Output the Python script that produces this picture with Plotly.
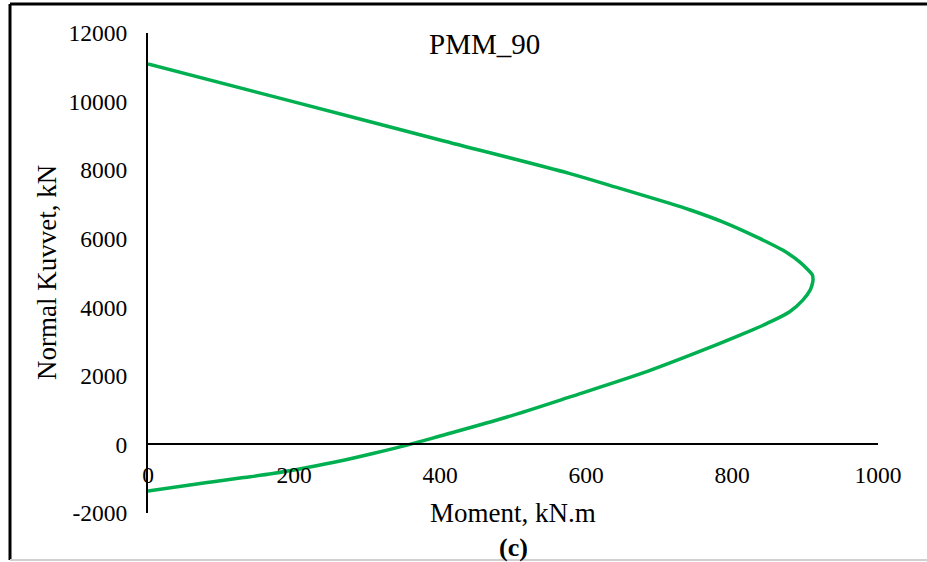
import plotly.graph_objects as go

# PMM_90 interaction curve (Moment kN.m, Normal force kN)
moment = [0, 200, 400, 578, 650, 715, 742, 788, 834, 870, 893, 905, 910, 911,
          910, 907, 897, 879, 848, 811, 747, 678, 578, 492, 400, 355, 308,
          263, 218, 171, 126, 81, 0]
axial = [11100, 9990, 8880, 7900, 7445, 7030, 6845, 6485, 6047, 5660, 5320, 5075, 4950, 4820,
         4680, 4500, 4210, 3870, 3530, 3190, 2640, 2085, 1385, 800, 245, -20, -265,
         -485, -675, -850, -980, -1110, -1360]

x_ticks = [0, 200, 400, 600, 800, 1000]
x_tick_labels = ["0", "200", "400", "600", "800", "1000"]
y_ticks = [-2000, 0, 2000, 4000, 6000, 8000, 10000, 12000]
y_tick_labels = ["-2000", "0", "2000", "4000", "6000", "8000", "10000", "12000"]
x_range = [0, 1000]
y_range = [-2000, 12000]

FONT = "Liberation Serif, Times New Roman, serif"

fig = go.Figure()
fig.add_trace(go.Scatter(x=moment, y=axial, mode="lines",
                         line=dict(color="#00B050", width=3.5, shape="spline", smoothing=0.9),
                         showlegend=False, hoverinfo="skip"))

zero_pos = (0 - y_range[0]) / (y_range[1] - y_range[0])

fig.update_layout(
    width=927, height=562,
    margin=dict(l=148, r=49, t=33, b=49),
    paper_bgcolor="white", plot_bgcolor="white",
    font=dict(family=FONT, color="black", size=23),
    xaxis=dict(range=x_range, tickvals=x_ticks, ticktext=x_tick_labels,
               showgrid=False, zeroline=False,
               showline=True, linecolor="black", linewidth=2,
               anchor="free", position=zero_pos, ticks="",
               ticklabelstandoff=9, tickfont=dict(size=23.5, family=FONT)),
    yaxis=dict(range=y_range, tickvals=y_ticks, ticktext=y_tick_labels,
               showgrid=False, zeroline=False,
               showline=True, linecolor="black", linewidth=2, ticks="",
               ticklabelstandoff=14, tickfont=dict(size=23.5, family=FONT)),
    annotations=[
        dict(text="PMM_90", x=(484 - 148) / 730, y=(513 - 44) / 480, xref="paper", yref="paper",
             showarrow=False, font=dict(size=29, family=FONT), xanchor="center", yanchor="middle"),
        dict(text="Moment, kN.m", x=0.5, y=(513 - 513) / 480, xref="paper", yref="paper",
             showarrow=False, font=dict(size=27, family=FONT), xanchor="center", yanchor="middle"),
        dict(text="<b>(c)</b>", x=0.5, y=(513 - 547) / 480, xref="paper", yref="paper",
             showarrow=False, font=dict(size=26, family=FONT), xanchor="center", yanchor="middle"),
        dict(text="Normal Kuvvet, kN", x=(47 - 148) / 730, y=0.5, xref="paper", yref="paper",
             showarrow=False, textangle=-90, font=dict(size=27, family=FONT),
             xanchor="center", yanchor="middle"),
    ],
    shapes=[
        dict(type="line", xref="paper", yref="paper", x0=(10 - 148) / 730, x1=(940 - 148) / 730,
             y0=(513 - 4) / 480, y1=(513 - 4) / 480, line=dict(color="black", width=3)),
        dict(type="line", xref="paper", yref="paper", x0=(10 - 148) / 730, x1=(10 - 148) / 730,
             y0=(513 - 4) / 480, y1=(513 - 560) / 480, line=dict(color="black", width=3)),
        dict(type="line", xref="paper", yref="paper", x0=(10 - 148) / 730, x1=(940 - 148) / 730,
             y0=(513 - 560) / 480, y1=(513 - 560) / 480, line=dict(color="#d0d0d0", width=2)),
    ],
)

fig.write_html("out.html")
